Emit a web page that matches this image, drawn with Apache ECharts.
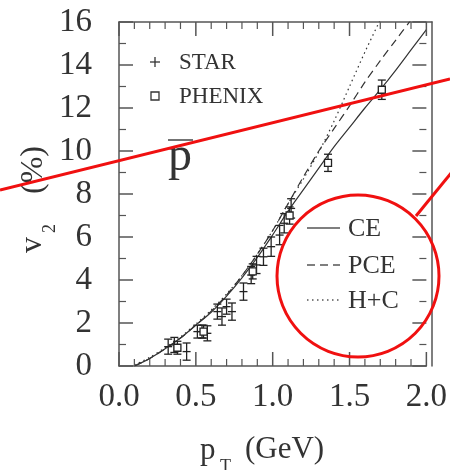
<!DOCTYPE html>
<html>
<head>
<meta charset="utf-8">
<script src="https://cdn.jsdelivr.net/npm/echarts@6/dist/echarts.min.js"></script>
<style>
  html, body { margin: 0; padding: 0; background: #fff; }
  #chart { width: 450px; height: 470px; }
</style>
</head>
<body>
<div id="chart"></div>
<script>
// Antiproton elliptic flow v2 (%) versus transverse momentum pT (GeV)

// STAR measurements
const starPt  = [0.32, 0.36, 0.44, 0.51, 0.54, 0.575, 0.64, 0.67, 0.70, 0.735, 0.81, 0.86, 0.895, 0.94, 0.99, 1.045, 1.075, 1.12];
const starV2  = [0.90, 0.98, 0.67, 1.60, 1.60, 1.52, 2.53, 2.30, 2.76, 2.53, 3.46, 4.23, 4.70, 5.08, 5.55, 6.09, 6.64, 7.33];
const starErr = [0.35, 0.35, 0.40, 0.30, 0.30, 0.35, 0.35, 0.40, 0.35, 0.40, 0.40, 0.40, 0.40, 0.40, 0.45, 0.45, 0.45, 0.45];

// PHENIX measurements
const phenixPt  = [0.38, 0.55, 0.87, 1.11, 1.36, 1.71];
const phenixV2  = [0.85, 1.60, 4.40, 7.00, 9.45, 12.85];
const phenixErr = [0.30, 0.30, 0.35, 0.40, 0.40, 0.45];

// Model curves sampled on a common pT grid
const curvePt = [0.1, 0.2, 0.3, 0.4, 0.5, 0.6, 0.7, 0.8, 0.9, 1.0, 1.1, 1.2, 1.3, 1.4, 1.5, 1.6, 1.7, 1.8, 1.9, 2.0];
const ceV2  = [0.0, 0.35, 0.80, 1.30, 1.90, 2.50, 3.25, 4.10, 5.05, 6.10, 7.20, 8.20, 9.20, 10.20, 11.10, 12.00, 12.85, 13.75, 14.70, 15.65];
const pceV2 = [0.0, 0.35, 0.80, 1.30, 1.90, 2.55, 3.30, 4.20, 5.20, 6.30, 7.55, 8.80, 10.00, 11.05, 12.10, 13.20, 14.20, 15.15, 16.10];
const hcV2  = [0.05, 0.40, 0.85, 1.35, 1.95, 2.60, 3.35, 4.20, 5.20, 6.30, 7.55, 8.70, 9.95, 11.40, 13.00, 14.60, 16.10];

// Axis tick labels
const xTickLabels = ['0.0', '0.5', '1.0', '1.5', '2.0'];
const yTickLabels = ['0', '2', '4', '6', '8', '10', '12', '14', '16'];

const X_MAX = 2, Y_MAX = 16;
const FONT = 'Liberation Serif';
const INK = '#333';
const AXIS = '#555';
const PLOT = { left: 119, right: 18, top: 22, bottom: 104 };

function toPairs(xs, ys) { return ys.map((v, i) => [xs[i], v]); }
function toTriples(xs, ys, es) { return xs.map((p, i) => [p, ys[i], es[i]]); }

// Tick marks on all four sides: [side (0 = pT, 1 = v2), major flag, value]
const tickMarks = [];
for (let i = 0; i <= 20; i++) tickMarks.push([0, i % 5 === 0 ? 1 : 0, i / 10]);
for (let i = 0; i <= 16; i++) tickMarks.push([1, i % 2 === 0 ? 1 : 0, i]);

function xAxisCfg(gridIndex, position, showLabel) {
  return {
    type: 'value', gridIndex: gridIndex, position: position, min: 0, max: X_MAX, interval: 0.5,
    axisLine: { show: true, onZero: false, lineStyle: { color: AXIS, width: 1.5 } },
    axisTick: { show: false }, minorTick: { show: false },
    splitLine: { show: false }, minorSplitLine: { show: false },
    axisLabel: {
      show: showLabel, margin: 15, fontFamily: FONT, fontSize: 33, color: INK,
      formatter: v => xTickLabels[Math.round(v / 0.5)]
    }
  };
}
function yAxisCfg(gridIndex, position, showLabel) {
  return {
    type: 'value', gridIndex: gridIndex, position: position, min: 0, max: Y_MAX, interval: 2,
    axisLine: { show: true, onZero: false, lineStyle: { color: AXIS, width: 1.5 } },
    axisTick: { show: false }, minorTick: { show: false },
    splitLine: { show: false }, minorSplitLine: { show: false },
    axisLabel: {
      show: showLabel, margin: 27, fontFamily: FONT, fontSize: 33, color: INK,
      formatter: v => yTickLabels[Math.round(v / 2)]
    }
  };
}

// Inward tick pairs (bottom/top for pT, left/right for v2) placed through the axis scales
function tickRender(params, api) {
  const side = api.value(0), major = api.value(1) === 1, v = api.value(2);
  const len = major ? 14 : 7;
  const st = { stroke: AXIS, lineWidth: major ? 1.5 : 1.2 };
  const seg = (x1, y1, x2, y2) => ({ type: 'line', shape: { x1, y1, x2, y2 }, style: st });
  if (side === 0) {
    const b = api.coord([v, 0]), t = api.coord([v, Y_MAX]);
    return { type: 'group', children: [seg(b[0], b[1], b[0], b[1] - len), seg(t[0], t[1], t[0], t[1] + len)] };
  }
  const l = api.coord([0, v]), r = api.coord([X_MAX, v]);
  return { type: 'group', children: [seg(l[0], l[1], l[0] + len, l[1]), seg(r[0], r[1], r[0] - len, r[1])] };
}

// Error bar with caps; STAR gets a centre tick, PHENIX an open square
function errorBars(kind) {
  return function (params, api) {
    const x = api.value(0), y = api.value(1), e = api.value(2);
    const c = api.coord([x, y]);
    const t = api.coord([x, y + e]);
    const b = api.coord([x, y - e]);
    const w = 4;
    const st = { stroke: '#222', lineWidth: 1.3 };
    const seg = (x1, y1, x2, y2) => ({ type: 'line', shape: { x1, y1, x2, y2 }, style: st });
    const children = [
      seg(c[0], t[1], c[0], b[1]),
      seg(c[0] - w, t[1], c[0] + w, t[1]),
      seg(c[0] - w, b[1], c[0] + w, b[1])
    ];
    if (kind === 'star') {
      children.push(seg(c[0] - w, c[1], c[0] + w, c[1]));
    } else {
      children.push({ type: 'rect', shape: { x: c[0] - 3.5, y: c[1] - 3.5, width: 7, height: 7 },
                      style: { fill: '#fff', stroke: '#222', lineWidth: 1.3 } });
    }
    return { type: 'group', children: children };
  };
}

function curve(name, ys, dash) {
  return {
    name: name, type: 'line', xAxisIndex: 0, yAxisIndex: 0,
    data: toPairs(curvePt, ys), showSymbol: false, smooth: 0.3, clip: true,
    lineStyle: { color: '#333', width: 1.2, type: dash }, z: 3, silent: true
  };
}

const txt = (x, y, text, size, extra) => Object.assign({
  type: 'text', x: x, y: y,
  style: { text: text, fontFamily: FONT, fontSize: size, fill: INK, align: 'left', verticalAlign: 'middle' }
}, extra || {});
const ln = (x1, y1, x2, y2, style) => ({
  type: 'line', shape: { x1, y1, x2, y2 }, style: Object.assign({ stroke: '#333', lineWidth: 1.3 }, style || {})
});
const RED = { stroke: '#f01010', lineWidth: 3, fill: null };

const chart = echarts.init(document.getElementById('chart'), null, { renderer: 'canvas' });
chart.setOption({
  backgroundColor: '#fff',
  animation: false,
  // grid 0 carries the data and the bottom/left scales; grid 1 draws the top/right frame lines
  grid: [Object.assign({}, PLOT), Object.assign({}, PLOT)],
  xAxis: [xAxisCfg(0, 'bottom', true), xAxisCfg(1, 'top', false)],
  yAxis: [yAxisCfg(0, 'left', true), yAxisCfg(1, 'right', false)],
  series: [
    { name: 'ticks', type: 'custom', xAxisIndex: 0, yAxisIndex: 0, renderItem: tickRender,
      data: tickMarks, encode: { x: 0, y: 1 }, silent: true, z: 6 },
    curve('CE', ceV2, 'solid'),
    curve('PCE', pceV2, [8, 5]),
    curve('H+C', hcV2, [1.5, 3.5]),
    { name: 'STAR', type: 'custom', xAxisIndex: 0, yAxisIndex: 0, renderItem: errorBars('star'),
      data: toTriples(starPt, starV2, starErr), encode: { x: 0, y: 1 }, z: 4 },
    { name: 'PHENIX', type: 'custom', xAxisIndex: 0, yAxisIndex: 0, renderItem: errorBars('phenix'),
      data: toTriples(phenixPt, phenixV2, phenixErr), encode: { x: 0, y: 1 }, z: 5 }
  ],
  graphic: [
    // axis titles
    txt(32.5, 253, 'v', 32, { rotation: Math.PI / 2 }),
    txt(50, 233, '2', 18, { rotation: Math.PI / 2 }),
    txt(33.5, 194, '(%)', 32, { rotation: Math.PI / 2 }),
    txt(200, 451, 'p', 31),
    txt(220, 467, 'T', 18),
    txt(245, 450, '(GeV)', 31),
    // particle label with overline
    txt(168, 157, 'p', 48),
    ln(168, 140, 193, 140, { stroke: '#444', lineWidth: 1.5 }),
    // data legend
    ln(150, 62, 160, 62), ln(155, 57, 155, 67),
    txt(179, 63, 'STAR', 23),
    { type: 'rect', shape: { x: 151, y: 92, width: 8, height: 8 }, style: { fill: '#fff', stroke: '#333', lineWidth: 1.3 } },
    txt(179, 97, 'PHENIX', 23),
    // model legend
    ln(307, 228, 340, 228, { stroke: '#555', lineWidth: 1.3 }),
    txt(348, 229, 'CE', 26),
    ln(307, 265, 340, 265, { stroke: '#555', lineWidth: 1.3, lineDash: [8, 5] }),
    txt(348, 266, 'PCE', 26),
    ln(307, 300, 340, 300, { stroke: '#555', lineWidth: 1.3, lineDash: [1.5, 3.5] }),
    txt(348, 301, 'H+C', 26),
    // red annotation strokes
    { type: 'line', z: 100, shape: { x1: 0, y1: 190, x2: 450, y2: 79 }, style: RED },
    { type: 'circle', z: 100, shape: { cx: 358, cy: 276, r: 81 }, style: RED },
    { type: 'line', z: 100, shape: { x1: 416, y1: 216, x2: 452, y2: 172 }, style: RED }
  ]
});
</script>
</body>
</html>
